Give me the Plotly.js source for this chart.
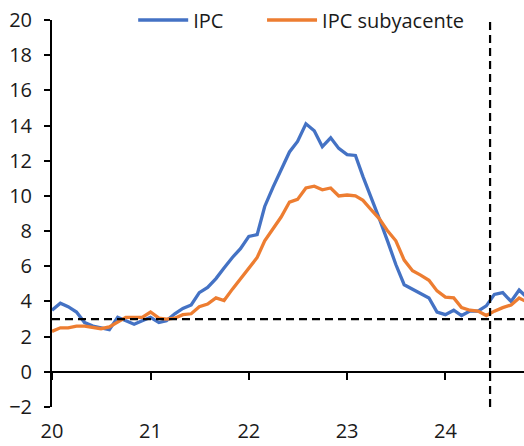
<!DOCTYPE html>
<html>
<head>
<meta charset="utf-8">
<script src="https://cdn.plot.ly/plotly-3.0.1.min.js"></script>
<style>
html,body{margin:0;padding:0;background:#fff;}
#chart{width:524px;height:446px;}
</style>
</head>
<body>
<div id="chart"></div>
<script>
// Monthly dates, Jan 2020 .. Nov 2024
const months = [
 '2020-01-01','2020-02-01','2020-03-01','2020-04-01','2020-05-01','2020-06-01','2020-07-01','2020-08-01','2020-09-01','2020-10-01','2020-11-01','2020-12-01',
 '2021-01-01','2021-02-01','2021-03-01','2021-04-01','2021-05-01','2021-06-01','2021-07-01','2021-08-01','2021-09-01','2021-10-01','2021-11-01','2021-12-01',
 '2022-01-01','2022-02-01','2022-03-01','2022-04-01','2022-05-01','2022-06-01','2022-07-01','2022-08-01','2022-09-01','2022-10-01','2022-11-01','2022-12-01',
 '2023-01-01','2023-02-01','2023-03-01','2023-04-01','2023-05-01','2023-06-01','2023-07-01','2023-08-01','2023-09-01','2023-10-01','2023-11-01','2023-12-01',
 '2024-01-01','2024-02-01','2024-03-01','2024-04-01','2024-05-01','2024-06-01','2024-07-01','2024-08-01','2024-09-01','2024-10-01','2024-11-01'
];
const ipc = [
 3.5,3.9,3.7,3.4,2.8,2.6,2.5,2.4,3.1,2.9,2.7,2.9,
 3.1,2.8,2.9,3.3,3.6,3.8,4.5,4.8,5.3,5.9,6.5,7.0,
 7.7,7.8,9.4,10.5,11.5,12.5,13.1,14.1,13.7,12.8,13.3,12.7,
 12.35,12.3,11.1,9.9,8.7,7.4,6.1,4.95,4.7,4.45,4.2,3.4,
 3.25,3.5,3.2,3.45,3.45,3.75,4.4,4.5,4.0,4.65,4.2
];
const ipcSub = [
 2.3,2.5,2.5,2.6,2.6,2.5,2.45,2.55,2.85,3.1,3.1,3.1,
 3.4,3.05,3.0,3.05,3.25,3.3,3.7,3.85,4.2,4.05,4.7,5.3,
 5.95,6.5,7.45,8.1,8.8,9.65,9.8,10.45,10.55,10.35,10.45,10.0,
 10.05,10.0,9.75,9.2,8.7,8.0,7.45,6.35,5.75,5.5,5.2,4.6,
 4.25,4.2,3.65,3.5,3.45,3.2,3.45,3.65,3.8,4.2,3.95
];
const seriesNames = ['IPC','IPC subyacente'];
const yearTickVals = ['2020-01-01','2021-01-01','2022-01-01','2023-01-01','2024-01-01'];
const yearTickText = ['20','21','22','23','24'];
const targetLevel = 3;
const cutoffDate = '2024-06-15';
const xRange = ['2020-01-01','2024-10-19'];
const yMin = -2, yMax = 20;

const font = {family:'"Open Sans", "Noto Sans", sans-serif', size:20, color:'#1a1a1a'};
const legendFont = {family:'"Open Sans", "Noto Sans", sans-serif', size:20, color:'#1a1a1a'};

const traces = [
 {x:months, y:ipc, name:seriesNames[0], type:'scatter', mode:'lines',
  line:{color:'#4472C4', width:3.3}, xaxis:'x', yaxis:'y', legend:'legend'},
 {x:months, y:ipcSub, name:seriesNames[1], type:'scatter', mode:'lines',
  line:{color:'#ED7D31', width:3.3}, xaxis:'x2', yaxis:'y', legend:'legend2'}
];

const legendBase = {orientation:'h', xanchor:'left', y:1, yanchor:'middle',
   bgcolor:'rgba(0,0,0,0)', font:legendFont, itemwidth:50};

const layout = {
 width:524, height:446,
 margin:{l:52, r:0, t:16, b:39},
 paper_bgcolor:'#fff', plot_bgcolor:'#fff',
 font:font,
 showlegend:true,
 legend:Object.assign({x:0.172}, legendBase),
 legend2:Object.assign({x:0.445}, legendBase),
 xaxis:{type:'date', range:xRange, tickvals:yearTickVals, ticktext:yearTickText,
   showgrid:false, zeroline:false, showline:false, ticks:'', ticklabelstandoff:10,
   tickfont:font, fixedrange:true},
 xaxis2:{type:'date', range:xRange, overlaying:'x', anchor:'free',
   position:(0 - yMin)/(yMax - yMin), side:'bottom',
   tickvals:yearTickVals, showticklabels:false, showgrid:false, zeroline:false,
   showline:true, linecolor:'#000', linewidth:2, ticks:'outside', ticklen:7,
   tickwidth:2, tickcolor:'#000'},
 yaxis:{range:[yMin,yMax], dtick:2, tick0:0, showgrid:false, zeroline:false,
   showline:true, linecolor:'#000', linewidth:2, ticks:'outside', ticklen:6,
   tickwidth:2, tickcolor:'#000', tickfont:font, ticklabelstandoff:8},
 shapes:[
  {type:'line', xref:'paper', x0:0, x1:1, yref:'y', y0:targetLevel, y1:targetLevel,
   line:{color:'#000', width:2.2, dash:'8px,5px'}},
  {type:'line', xref:'x', x0:cutoffDate, x1:cutoffDate, yref:'paper', y0:0, y1:1,
   line:{color:'#000', width:2.2, dash:'8px,5px'}}
 ]
};

Plotly.newPlot('chart', traces, layout, {displayModeBar:false, staticPlot:true});
</script>
</body>
</html>
